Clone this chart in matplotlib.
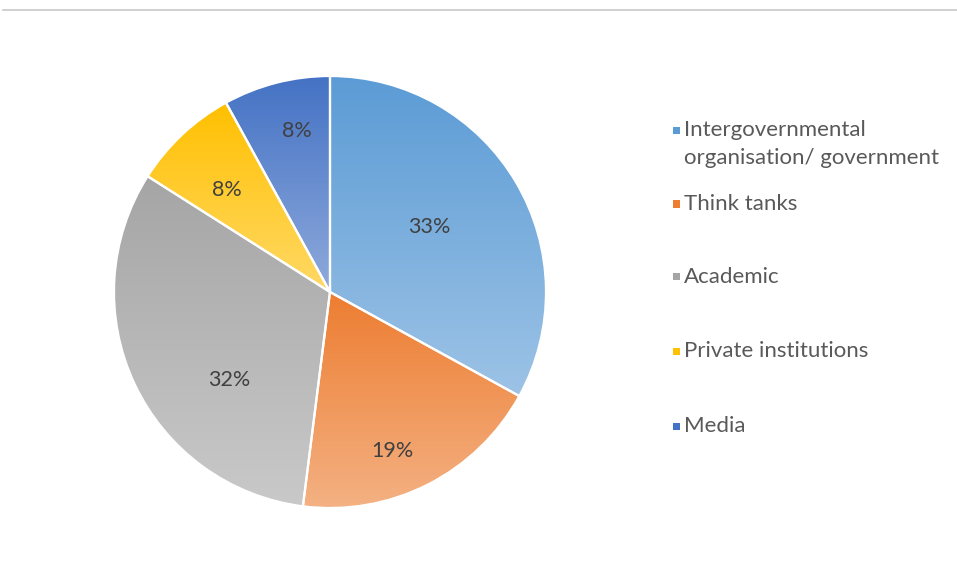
import numpy as np
import matplotlib
matplotlib.use("Agg")
import matplotlib.pyplot as plt
from matplotlib.colors import LinearSegmentedColormap
from matplotlib.patches import Rectangle
from matplotlib.lines import Line2D

categories = ["Intergovernmental\norganisation/ government", "Think tanks",
              "Academic", "Private institutions", "Media"]
shares = [33, 19, 32, 8, 8]
labels = ["33%", "19%", "32%", "8%", "8%"]

top_colors = ["#5B9BD5", "#ED7D31", "#A5A5A5", "#FFC000", "#4472C4"]
bottom_colors = ["#9DC3E6", "#F4B183", "#C9C9C9", "#FFD966", "#8FAADC"]

# label placement (radial fraction, angular offset in degrees) per slice
label_radius = [0.55, 0.79, 0.62, 0.67, 0.76]
label_turn = [2.4, -5.6, 16.0, 2.1, -2.7]

W, H = 957, 567
fig = plt.figure(figsize=(W / 100, H / 100), dpi=100)
fig.patch.set_facecolor("white")

cx, cy, r = 330, 292, 216
ax = fig.add_axes([(cx - r) / W, (H - cy - r) / H, 2 * r / W, 2 * r / H])
ax.set_xlim(-1, 1)
ax.set_ylim(-1, 1)
ax.set_aspect("equal")
ax.axis("off")

wedges, _ = ax.pie(shares, startangle=90, counterclock=False, radius=1,
                   wedgeprops=dict(edgecolor="white", linewidth=1.6))

grad = np.linspace(0, 1, 256).reshape(-1, 1)
font = "Lato"
for i, w in enumerate(wedges):
    w.set_facecolor("none")
    bb = w.get_path().get_extents(w.get_patch_transform())
    cmap = LinearSegmentedColormap.from_list("g%d" % i, [top_colors[i], bottom_colors[i]])
    im = ax.imshow(grad, cmap=cmap, aspect="auto", origin="upper",
                   extent=[bb.x0, bb.x1, bb.y0, bb.y1], zorder=0.5,
                   interpolation="bilinear")
    im.set_clip_path(w)
    w.set_zorder(1)
    mid = np.deg2rad((w.theta1 + w.theta2) / 2 + label_turn[i])
    ax.text(label_radius[i] * np.cos(mid), label_radius[i] * np.sin(mid), labels[i],
            ha="center", va="center", fontsize=15.5, color="#404040",
            family=font, zorder=3)
ax.set_xlim(-1, 1)
ax.set_ylim(-1, 1)

# legend
legend_y = [130, 204, 277, 351, 426]
line_step = 28
for i, (name, y) in enumerate(zip(categories, legend_y)):
    fig.patches.append(Rectangle(((673) / W, (H - y - 3.5) / H), 7 / W, 7 / H,
                                 transform=fig.transFigure, facecolor=top_colors[i],
                                 edgecolor="none"))
    n_lines = name.count("\n") + 1
    ty = y + (n_lines - 1) * line_step / 2
    fig.text(684 / W, (H - ty) / H, name, ha="left", va="center",
             fontsize=16, color="#595959", family=font, linespacing=1.48)

fig.lines.append(Line2D([3 / W, 1], [(H - 10) / H] * 2, transform=fig.transFigure,
                        color="#C8C8C8", linewidth=1.2))

fig.savefig("out.png", dpi=100)
